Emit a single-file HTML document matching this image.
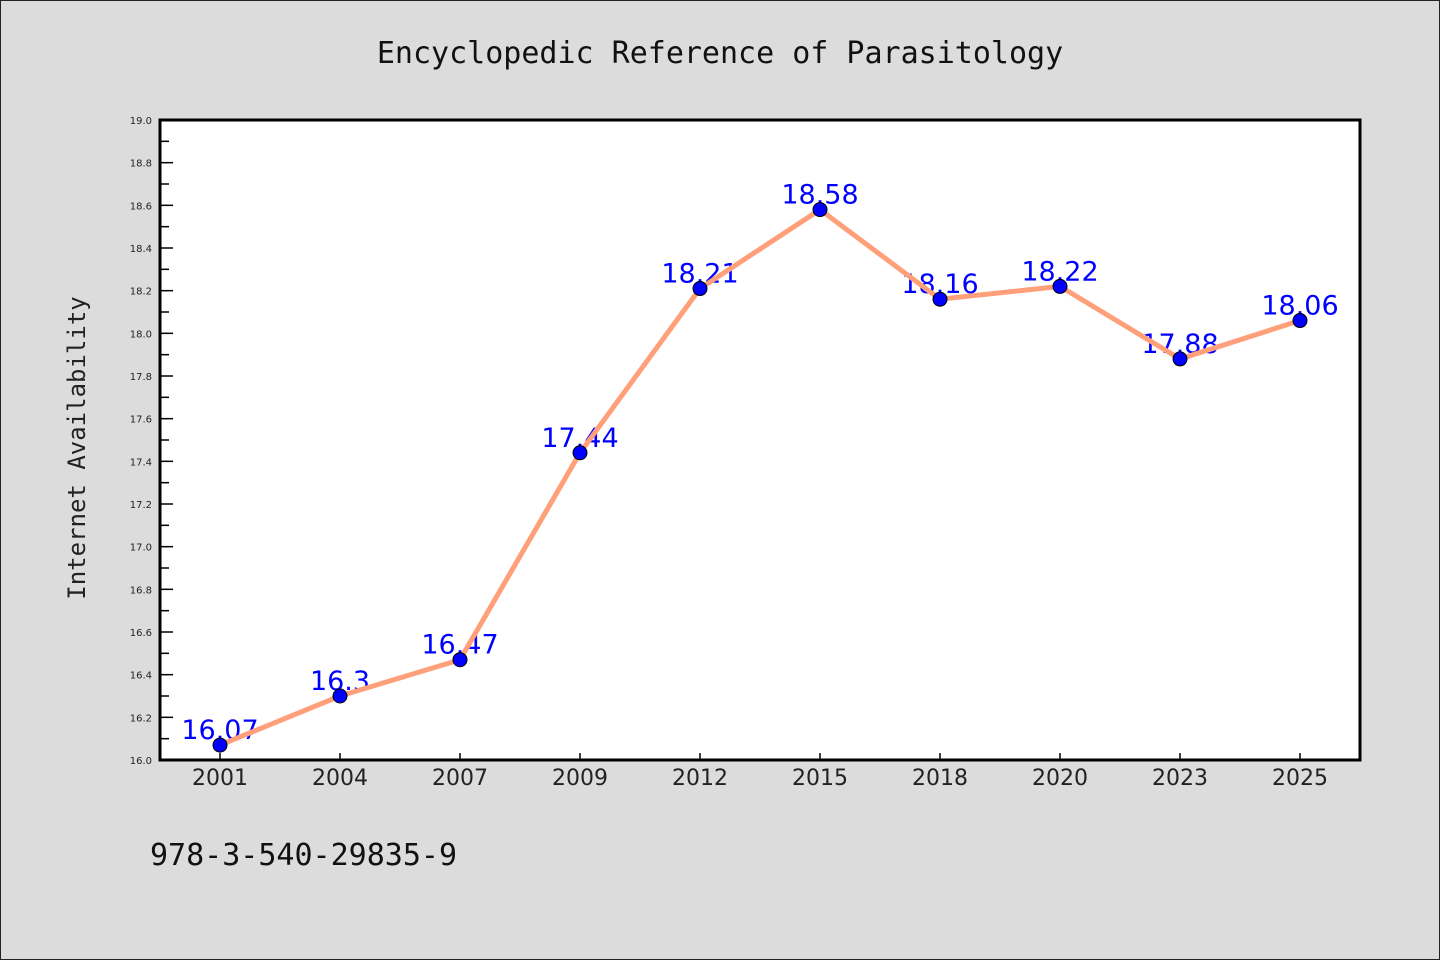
<!DOCTYPE html>
<html><head><meta charset="utf-8"><style>
html,body{margin:0;padding:0;background:#dcdcdc;}
svg{display:block;}
</style></head><body>
<svg width="1440" height="960" viewBox="0 0 1440 960" xmlns="http://www.w3.org/2000/svg">
<rect x="0.5" y="0.5" width="1439" height="959" fill="#dcdcdc" stroke="#222" stroke-width="1"/>
<text x="720" y="63" text-anchor="middle" font-family="DejaVu Sans Mono, monospace" font-size="30" fill="#111">Encyclopedic Reference of Parasitology</text>
<rect x="160" y="120" width="1200" height="640" fill="#fff"/>
<g id="yaxis"></g>
<g id="xaxis"></g>
<g id="labels"></g>
<g id="series"></g>
<rect x="160" y="120" width="1200" height="640" fill="none" stroke="#000" stroke-width="3"/>
<text transform="translate(85,448) rotate(-90)" text-anchor="middle" font-family="DejaVu Sans Mono, monospace" font-size="24" fill="#222">Internet Availability</text>
<text x="150" y="865" font-family="DejaVu Sans Mono, monospace" font-size="30" fill="#111">978-3-540-29835-9</text>
</svg>
<script>
const categories = ["2001","2004","2007","2009","2012","2015","2018","2020","2023","2025"];
const values = [16.07,16.3,16.47,17.44,18.21,18.58,18.16,18.22,17.88,18.06];
const valueLabels = ["16.07","16.3","16.47","17.44","18.21","18.58","18.16","18.22","17.88","18.06"];
const yTicks = [16.0,16.2,16.4,16.6,16.8,17.0,17.2,17.4,17.6,17.8,18.0,18.2,18.4,18.6,18.8,19.0];
const yMin = 16.0, yMax = 19.0;
const L=160,R=1360,T=120,B=760;
const NS="http://www.w3.org/2000/svg";
function y(v){return B-(v-yMin)/(yMax-yMin)*(B-T);}
function x(i){const bw=(R-L)/categories.length;return L+bw*(i+0.5);}
function mk(tag,attrs,parent){const e=document.createElementNS(NS,tag);for(const k in attrs)e.setAttribute(k,attrs[k]);parent.appendChild(e);return e;}
const ya=document.getElementById('yaxis'),xa=document.getElementById('xaxis'),lb=document.getElementById('labels'),sr=document.getElementById('series');
yTicks.forEach((t,i)=>{
  const yy=y(t);
  const l=mk('line',{x1:L,x2:L+13,y1:yy,y2:yy,stroke:'#000','stroke-width':1.5},ya);
  
  
  const tx=mk('text',{x:L-8,y:yy+4,'text-anchor':'end','font-family':'DejaVu Sans, sans-serif','font-size':10,fill:'#222'},ya);
  tx.textContent=t.toFixed(1);
  
  
  if(i<yTicks.length-1){
    const ym=y(t+0.1);
    const m=mk('line',{x1:L,x2:L+9,y1:ym,y2:ym,stroke:'#000','stroke-width':1.5},ya);
    
    
  }
});
categories.forEach((c,i)=>{
  const xx=x(i);
  const l=mk('line',{x1:xx,x2:xx,y1:B,y2:B-7,stroke:'#000','stroke-width':1.5},xa);
  
  
  const tx=mk('text',{x:xx,y:B+25,'text-anchor':'middle','font-family':'DejaVu Sans, sans-serif','font-size':22,fill:'#222'},xa);
  tx.textContent=c;
  
  
});
values.forEach((v,i)=>{
  const tx=mk('text',{x:x(i),y:y(v)-6,'text-anchor':'middle','font-family':'DejaVu Sans, sans-serif','font-size':27,fill:'#0000ff'},lb);
  tx.textContent=valueLabels[i];
  
  
});
const pl=mk('polyline',{points:values.map((v,i)=>x(i)+','+y(v)).join(' '),fill:'none',stroke:'#ffa07a','stroke-width':5,'stroke-linejoin':'round'},sr);


values.forEach((v,i)=>{
  const c=mk('circle',{cx:x(i),cy:y(v),r:7,fill:'#0000ff',stroke:'#000','stroke-width':1},sr);
  
  
});
</script>
</body></html>
